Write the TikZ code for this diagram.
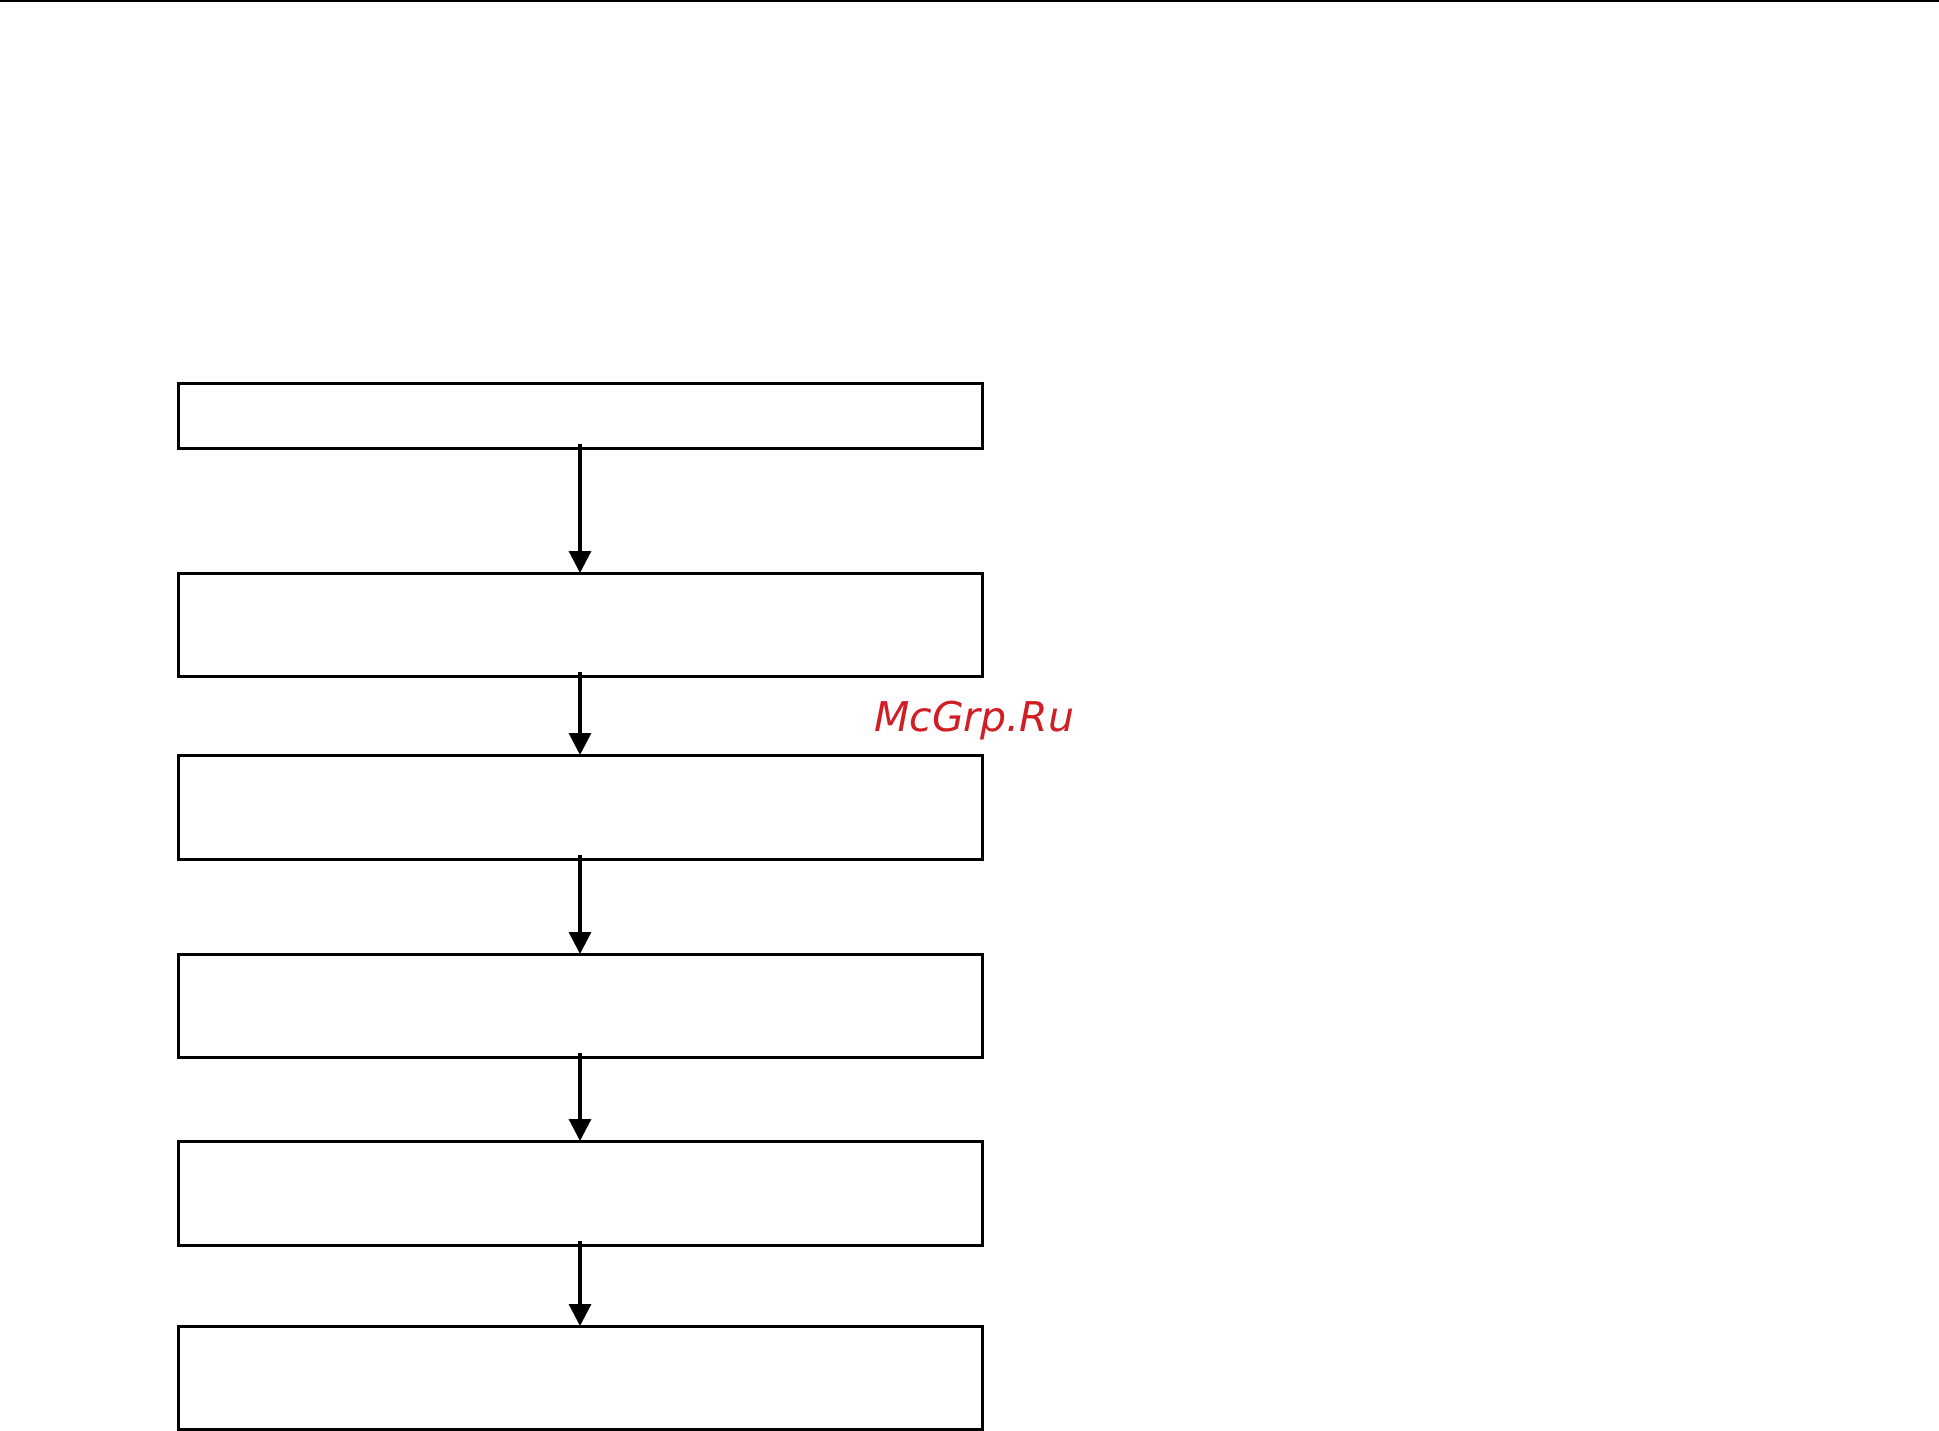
\documentclass[tikz,border=0pt]{standalone}
\usepackage{fontspec}
\newfontfamily\wmfont{DejaVu Sans}
\usetikzlibrary{arrows.meta}
\definecolor{wmred}{RGB}{208,30,36}
\begin{document}
\begin{tikzpicture}[x=1pt,y=-1pt,
  box/.style={draw=black, line width=3pt, rectangle, inner sep=0pt, outer sep=0pt,
    minimum width=804pt, anchor=north west},
  flow/.style={draw=black, line width=3.2pt, -{Triangle[width=22pt,length=22pt]}},
  wm/.style={text=wmred, font=\wmfont\itshape\fontsize{41}{48}\selectfont, inner sep=0pt, anchor=base west}]
\useasboundingbox (0,0) rectangle (1939,1431);
\coordinate (tl) at (0,0.9);
\coordinate (tr) at (1939,0.9);
\draw[line width=1.8pt] (tl) -- (tr);
\node[box, minimum height=65pt]  (b1) at (178,383) {};
\node[box, minimum height=103pt] (b2) at (178,573) {};
\node[box, minimum height=104pt] (b3) at (178,755) {};
\node[box, minimum height=103pt] (b4) at (178,954) {};
\node[box, minimum height=104pt] (b5) at (178,1141) {};
\node[box, minimum height=103pt] (b6) at (178,1326) {};
\draw[flow] ([yshift=4pt]b1.south) -- (b2.north);
\draw[flow] ([yshift=4pt]b2.south) -- (b3.north);
\draw[flow] ([yshift=4pt]b3.south) -- (b4.north);
\draw[flow] ([yshift=4pt]b4.south) -- (b5.north);
\draw[flow] ([yshift=4pt]b5.south) -- (b6.north);
\node[wm] (wm) at (874,731) {McGrp.Ru};
\end{tikzpicture}
\end{document}
